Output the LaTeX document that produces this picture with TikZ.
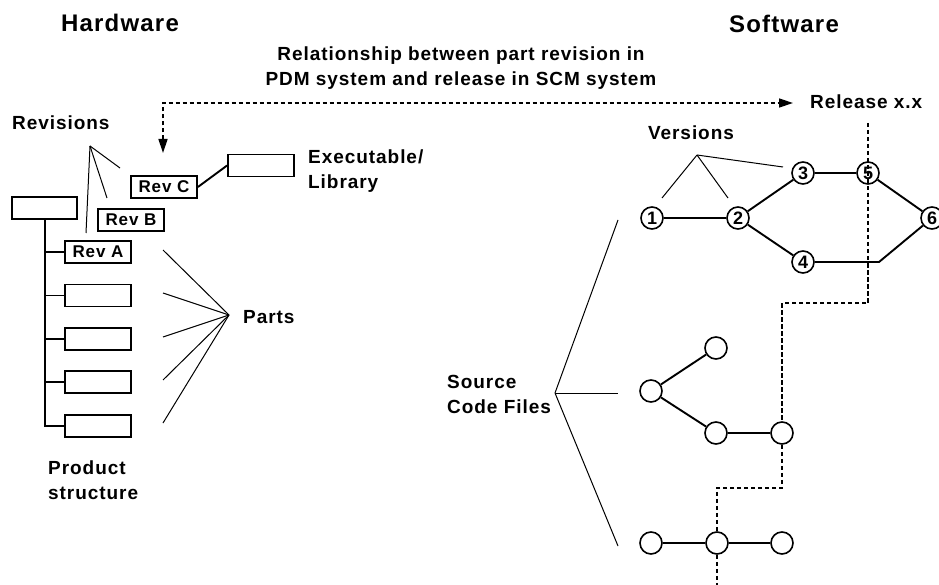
\documentclass[tikz,border=0pt]{standalone}
\usepackage{fontspec}
\setmainfont{Liberation Sans}[LetterSpace=5]
\newfontfamily\plainsans{Liberation Sans}
\usetikzlibrary{arrows.meta}
\tikzset{reltip/.tip={Triangle[length=14pt,width=9pt]}}
\begin{document}
\begin{tikzpicture}[x=1pt,y=-1pt,
  lbl/.style={font=\fontsize{19}{25}\selectfont\bfseries, inner sep=0pt},
  title/.style={font=\fontsize{24}{28}\selectfont\bfseries, inner sep=0pt},
  pbox/.style={draw, line width=1.8pt, minimum width=66pt, minimum height=22pt, inner sep=0pt, font=\fontsize{17}{20}\selectfont\bfseries},
  ver/.style={draw, circle, line width=1.6pt, minimum size=22pt, inner sep=0pt, fill=white, font=\plainsans\fontsize{18}{20}\selectfont\bfseries},
  fan/.style={line width=1pt},
  edge/.style={line width=1.9pt},
  reldash/.style={line width=1.4pt, dash pattern=on 4.5pt off 2.5pt}
]
\useasboundingbox (0,0) rectangle (939,585);

% titles
\node[title] (hw) at (120,23) {Hardware};
\node[title] (sw) at (784,24) {Software};
\node[lbl, align=center] (relation) at (461,68.5) {Relationship between part revision in\\PDM system and release in SCM system};
\node[lbl, anchor=west] (release) at (810,102) {Release x.x};

% hardware side
\node[lbl, anchor=west] (revisions) at (12,123) {Revisions};
\node[pbox, minimum width=65pt] (top) at (44.5,208) {};
\node[pbox] (p1) at (98,252) {Rev A};
\node[pbox] (p2) at (98,295.5) {};
\node[pbox] (p3) at (98,339) {};
\node[pbox] (p4) at (98,382) {};
\node[pbox] (p5) at (98,426) {};
\node[pbox] (revb) at (131,220) {Rev B};
\node[pbox] (revc) at (164,187) {Rev C};
\node[pbox] (exe) at (261,165.5) {};
\node[lbl, anchor=west, align=left] (exetext) at (308,171) {Executable/\\Library};
\node[lbl, anchor=west] (parts) at (243,317) {Parts};
\node[lbl, anchor=west, align=left] (prod) at (48,480) {Product\\structure};

\coordinate (trunk) at (45,219);
\draw[edge] (top.south -| trunk) -- (trunk |- p5.west) -- (p5.west);
\foreach \p in {p1,p2,p3,p4} \draw[edge] (trunk |- \p.west) -- (\p.west);
\draw[edge] (revc.east) -- (exe.west);

% revisions fan
\coordinate (rf) at (90,146);
\draw[fan] (rf) -- (120,168);
\draw[fan] (rf) -- (107,198);
\draw[fan] (rf) -- (86,233);

% parts fan
\coordinate (pf) at (229,315);
\foreach \y in {250,293,337,380,423} \draw[fan] (pf) -- (163,\y);

% relationship arrow
\coordinate (dn) at (163,153);
\coordinate (rt) at (793,103);
\draw[reldash, {reltip}-{reltip}] (dn) |- (rt);

% software side: versions
\node[lbl] (versions) at (691,133) {Versions};
\node[ver] (v1) at (652,218) {1};
\node[ver] (v2) at (738,218) {2};
\node[ver] (v3) at (803,173) {3};
\node[ver] (v4) at (803,262) {4};
\node[ver] (v5) at (868,173) {5};
\node[ver] (v6) at (932,218) {6};
\coordinate (bend) at (879,262);
\draw[edge] (v1) -- (v2);
\draw[edge] (v2) -- (v3);
\draw[edge] (v2) -- (v4);
\draw[edge] (v3) -- (v5);
\draw[edge] (v5) -- (v6);
\draw[edge] (v4) -- (bend) -- (v6);

\coordinate (vf) at (697,155);
\draw[fan] (vf) -- (662,198);
\draw[fan] (vf) -- (728,198);
\draw[fan] (vf) -- (783,167);

% source code files
\node[lbl, anchor=west, align=left] (src) at (447,394) {Source\\Code Files};
\coordinate (sf) at (555,393);
\draw[fan] (sf) -- (618,220);
\draw[fan] (sf) -- (618,393);
\draw[fan] (sf) -- (618,546);

\node[ver] (a) at (651,391) {};
\node[ver] (b) at (716,348) {};
\node[ver] (c) at (716,433) {};
\node[ver] (d) at (782,433) {};
\node[ver] (e) at (651,543) {};
\node[ver] (f) at (717,543) {};
\node[ver] (g) at (782,543) {};
\draw[edge] (a) -- (b);
\draw[edge] (a) -- (c);
\draw[edge] (c) -- (d);
\draw[edge] (e) -- (f);
\draw[edge] (f) -- (g);

% release line
\coordinate (rtop) at (868,123);
\coordinate (rbot) at (717,585);
\draw[reldash] (rtop) -- (868,303) -| (d.north);
\draw[reldash] (d.south) -- (782,488) -| (f.north);
\draw[reldash] (f.south) -- (rbot);
\end{tikzpicture}
\end{document}
